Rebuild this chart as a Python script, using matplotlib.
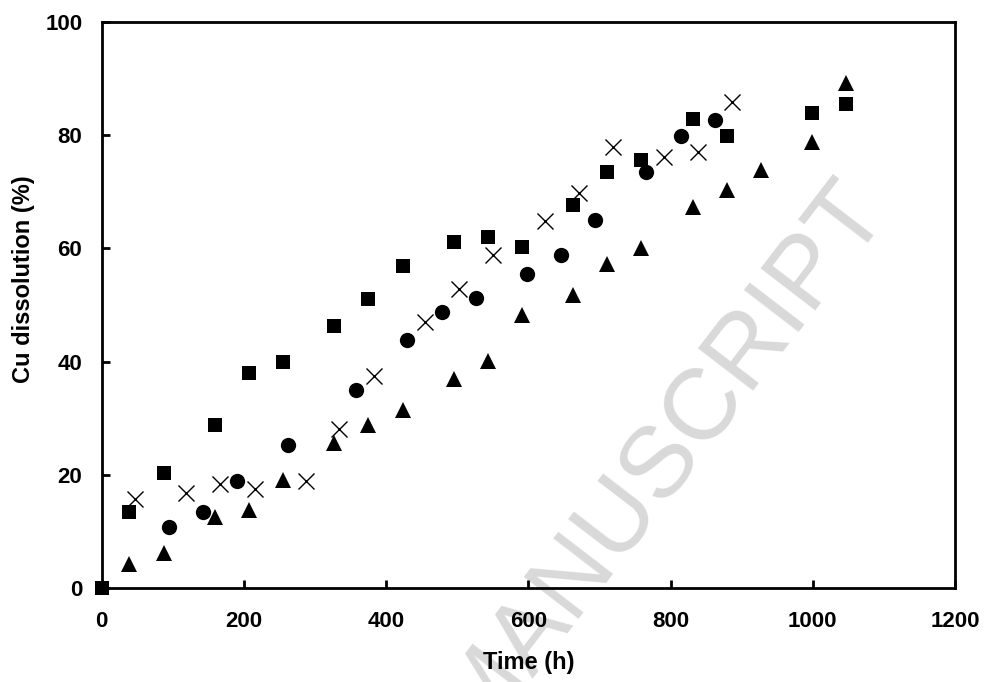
import matplotlib.pyplot as plt

# data
sq_t = [0, 39, 87, 159, 207, 255, 327, 375, 423, 495, 543, 591, 663, 711, 759, 831, 879, 999, 1047]
sq_cu = [0, 13.5, 20.3, 28.9, 38.0, 40.0, 46.3, 51.0, 56.9, 61.1, 62.0, 60.3, 67.6, 73.5, 75.6, 82.8, 79.8, 83.8, 85.4]

ci_t = [94, 142, 190, 262, 358, 430, 478, 526, 598, 646, 694, 766, 814, 862]
ci_cu = [10.9, 13.4, 19.0, 25.3, 35.0, 43.8, 48.8, 51.3, 55.5, 58.8, 65.0, 73.5, 79.8, 82.6]

tr_t = [39, 87, 159, 207, 255, 327, 375, 423, 495, 543, 591, 663, 711, 759, 831, 879, 927, 999, 1047]
tr_cu = [4.3, 6.3, 12.6, 13.9, 19.2, 25.6, 28.8, 31.4, 36.9, 40.1, 48.2, 51.8, 57.3, 60.0, 67.3, 70.3, 73.9, 78.8, 89.2]

cr_t = [47, 119, 167, 215, 287, 334, 383, 455, 503, 550, 623, 671, 719, 791, 838, 887]
cr_cu = [15.7, 16.8, 18.4, 17.6, 19.0, 28.2, 37.5, 47.0, 52.9, 58.8, 64.9, 69.8, 77.9, 76.2, 77.0, 85.8]

x_ticks = [0, 200, 400, 600, 800, 1000, 1200]
y_ticks = [0, 20, 40, 60, 80, 100]

plt.rcParams['font.family'] = ['Liberation Sans', 'DejaVu Sans']
plt.rcParams['font.weight'] = 'bold'

fig = plt.figure(figsize=(9.84, 6.82), dpi=100)
ax = fig.add_axes([0.1034, 0.1374, 0.8671, 0.8308])
ax.set_facecolor('none')

# watermark behind everything
fig.text(0.9045, 0.6862, 'ACCEPTED MANUSCRIPT', fontsize=73, fontweight='normal',
         color='#d9d9d9', rotation=52.5, rotation_mode='anchor',
         ha='right', va='baseline', zorder=-1)

ax.plot(ci_t, ci_cu, 'o', color='black', ms=11, mew=0, clip_on=False)
ax.plot(tr_t, tr_cu, '^', color='black', ms=11, mew=0, clip_on=False)
ax.plot(cr_t, cr_cu, 'x', color='black', ms=11, mew=1, clip_on=False)
ax.plot(sq_t, sq_cu, 's', color='black', ms=10, mew=0, clip_on=False, zorder=3)

ax.set_xlim(0, 1200)
ax.set_ylim(0, 100)
ax.set_xticks(x_ticks)
ax.set_yticks(y_ticks)
for s in ax.spines.values():
    s.set_linewidth(2)
ax.tick_params(direction='in', length=6, width=2, labelsize=16)
ax.tick_params(axis='x', pad=16)
ax.tick_params(axis='y', pad=14)

ax.set_xlabel('Time (h)', fontsize=17, fontweight='bold', labelpad=14)
ax.set_ylabel('Cu dissolution (%)', fontsize=17, fontweight='bold')
ax.yaxis.set_label_coords(-0.078, 0.546)

fig.savefig('out.png', dpi=100)
